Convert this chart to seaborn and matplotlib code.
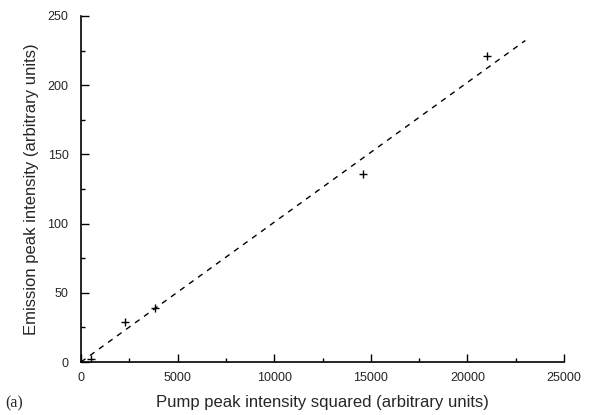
import matplotlib
matplotlib.use("Agg")
import matplotlib.pyplot as plt
import seaborn as sns
import numpy as np
import pandas as pd
from matplotlib.ticker import MultipleLocator

pump_sq = [500, 2300, 3850, 14600, 21000]
emission = [2, 29, 39, 136, 221]
fit_x = [0, 23000]
fit_slope = 0.0101

sns.set_theme(style="ticks")
plt.rcParams['font.family'] = ['Liberation Sans', 'DejaVu Sans']

fig = plt.figure(figsize=(5.89, 4.15), dpi=100)
ax = fig.add_axes([81/589, 1-362/415, (564-81)/589, (362-16)/415])

df = pd.DataFrame({"x": pump_sq, "y": emission})
fit_df = pd.DataFrame({"x": fit_x, "y": [fit_slope * v for v in fit_x]})

sns.lineplot(data=fit_df, x="x", y="y", ax=ax, color="black", lw=1.0,
             linestyle=(0, (4, 4)))
sns.scatterplot(data=df, x="x", y="y", ax=ax, marker="+", color="black",
                s=40, linewidth=1.0)

ax.set_xlim(0, 25000)
ax.set_ylim(0, 250)
ax.xaxis.set_major_locator(MultipleLocator(5000))
ax.xaxis.set_minor_locator(MultipleLocator(2500))
ax.yaxis.set_major_locator(MultipleLocator(50))
ax.yaxis.set_minor_locator(MultipleLocator(25))
ax.tick_params(which="both", direction="in", labelsize=9, color="black")
ax.tick_params(which="major", length=6, width=1)
ax.tick_params(which="minor", length=3, width=1)
ax.tick_params(axis="x", which="major", pad=7)
ax.tick_params(axis="y", which="major", pad=9)
for s in ["top", "right"]:
    ax.spines[s].set_visible(False)
for s in ["left", "bottom"]:
    ax.spines[s].set_color("black")
    ax.spines[s].set_linewidth(1.2)

ax.set_xlabel("Pump peak intensity squared (arbitrary units)", fontsize=12, labelpad=8)
ax.set_ylabel("Emission peak intensity (arbitrary units)", fontsize=12, labelpad=6)
fig.text(5/589, 1-403/415, "(a)", fontsize=11.5, family="Liberation Serif", va="center", ha="left")

fig.savefig("out.png", dpi=100)
